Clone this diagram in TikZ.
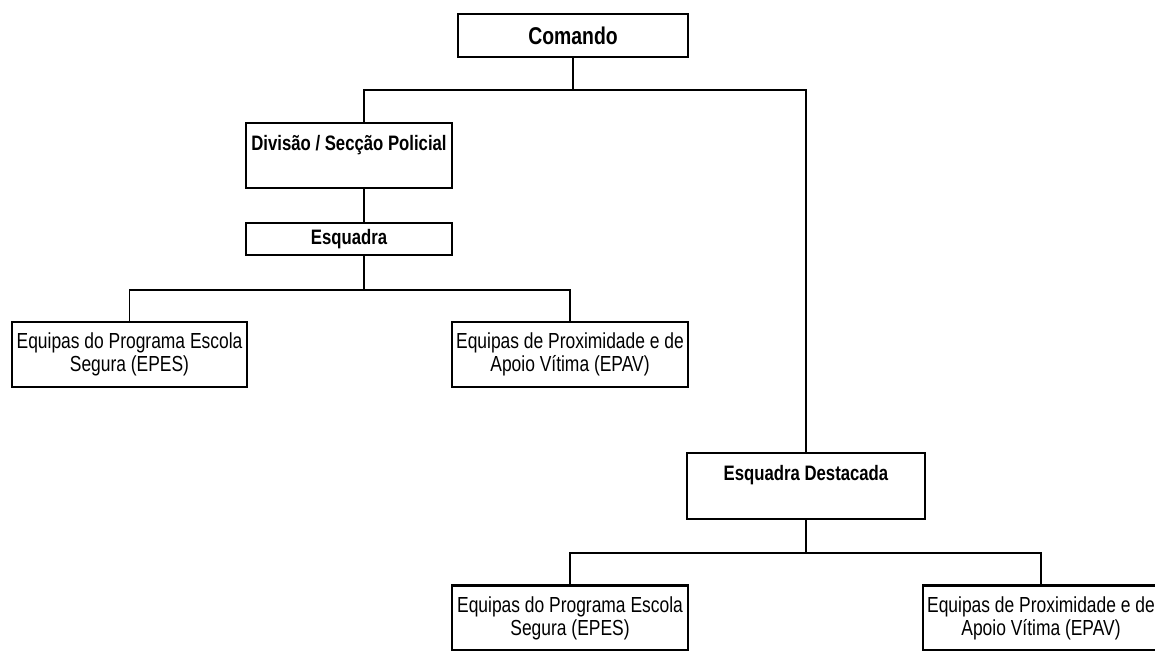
\documentclass[tikz,border=0pt]{standalone}
\usepackage{fontspec}
\setmainfont[FakeStretch=0.8]{Liberation Sans}
\begin{document}
\begin{tikzpicture}[x=0.02cm,y=-0.02cm,
		box/.style={draw,line width=1.6pt,inner sep=0pt,outer sep=0pt,align=center,
			font=\fontsize{12.4pt}{13pt}\selectfont,minimum width=4.72cm,minimum height=1.3cm},
		head/.style={box,font=\fontsize{11.9pt}{13pt}\selectfont\bfseries},
		toptext/.style={label={[anchor=base,yshift=-0.55cm,font=\fontsize{11.9pt}{13pt}\selectfont\bfseries]north:{#1}}},
		conn/.style={line width=1.1pt}]
				\useasboundingbox (0,0) rectangle (1155,650);
				\clip (0,0) rectangle (1155,650);
				% boxes
				\node[head,font=\fontsize{13.8pt}{14pt}\selectfont\bfseries,minimum width=4.6cm,minimum height=0.86cm] (comando) at (573,35.5) {Comando};
				\node[head,minimum width=4.12cm,toptext={Divisão / Secção Policial}] (divisao) at (349,155.5) {};
				\node[head,minimum width=4.12cm,minimum height=0.64cm] (esquadra) at (349,239) {Esquadra};
				\node[box,minimum width=4.7cm] (epes1) at (129.5,354.5) {Equipas do Programa Escola\\Segura (EPES)};
				\node[box] (epav1) at (570,354.5) {Equipas de Proximidade e de\\Apoio Vítima (EPAV)};
				\node[head,minimum width=4.76cm,minimum height=1.32cm,toptext={Esquadra Destacada}] (destacada) at (806,486) {};
				\node[box] (epes2) at (570,618) {Equipas do Programa Escola\\Segura (EPES)};
				\node[box] (epav2) at (1041,618) {Equipas de Proximidade e de\\Apoio Vítima (EPAV)};
				% connectors
				\coordinate (b1) at (364,90);
				\coordinate (b2) at (806,90);
				\coordinate (b3) at (364,290);
				\coordinate (b4) at (806,553);
				\draw[conn] (comando.south) -- (comando.south |- b1);
				\draw[conn] (b1 |- divisao.north) -- (b1) -- (b2) -- (destacada.north);
				\draw[conn] (b1 |- divisao.south) -- (b1 |- esquadra.north);
				\draw[conn] (b1 |- esquadra.south) -- (b3);
				\draw[conn] (epes1.north) |- (b3) -| (epav1.north);
				\draw[conn] (destacada.south) -- (b4);
				\draw[conn] (epes2.north) |- (b4) -| (epav2.north);
\end{tikzpicture}
\end{document}
